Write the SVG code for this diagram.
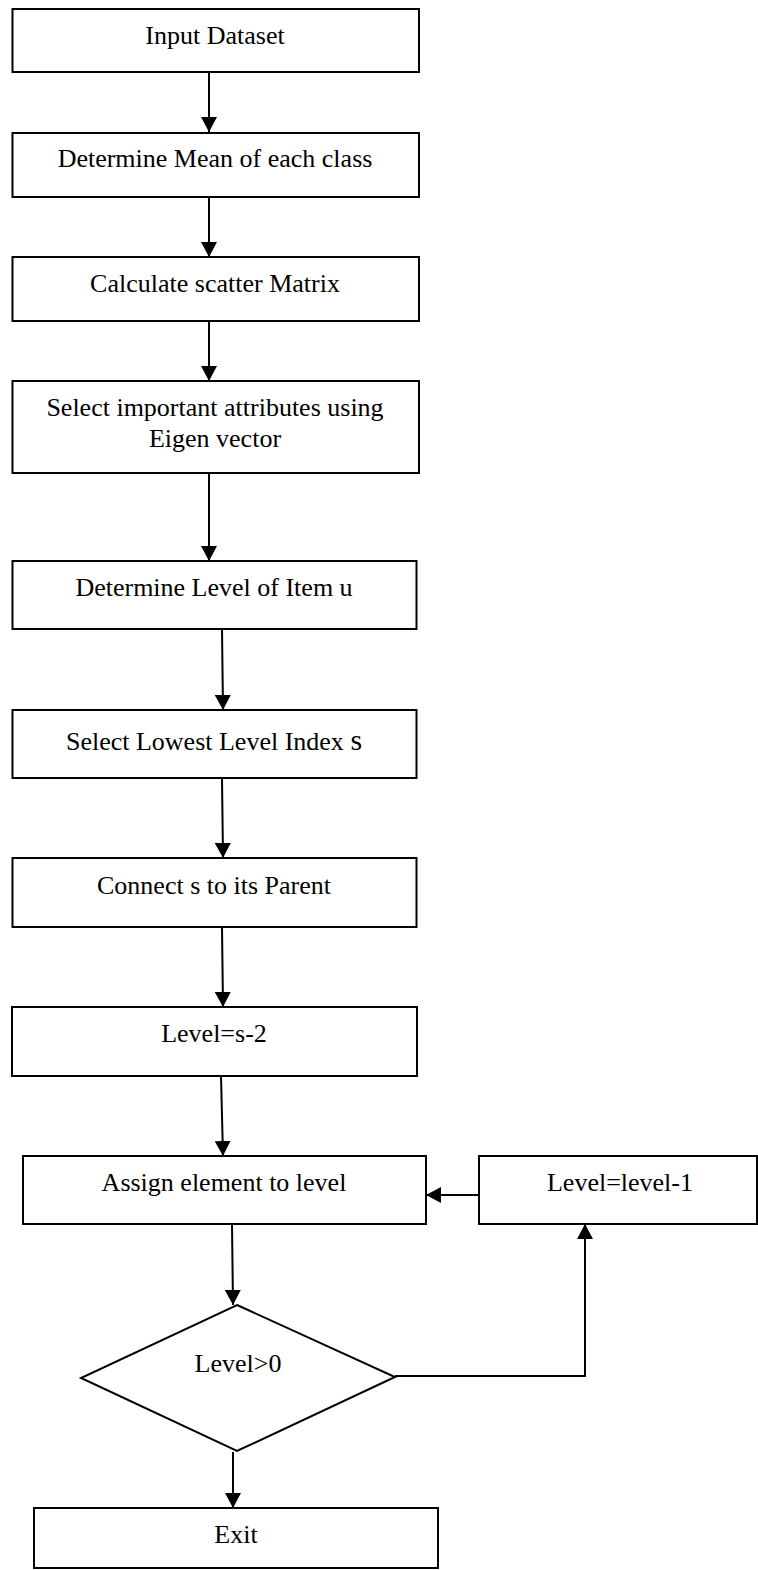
<svg xmlns="http://www.w3.org/2000/svg" width="758" height="1570" viewBox="0 0 758 1570">
<style>
.box{fill:#fff;stroke:#000;stroke-width:2}
.t{font-family:"Liberation Serif","Times New Roman",serif;font-size:26px;fill:#000;text-anchor:middle}
.c{fill:none;stroke:#000;stroke-width:2}
</style>
<defs>
<marker id="ah" markerUnits="userSpaceOnUse" markerWidth="16" markerHeight="16" viewBox="0 0 16 16" refX="15" refY="8" orient="auto">
<path d="M0,0 L15,8 L0,16 Z" fill="#000"/>
</marker>
</defs>
<rect width="758" height="1570" fill="#fff"/>
<g id="connectors">
<line class="c" x1="209" y1="72" x2="209" y2="132" marker-end="url(#ah)"/>
<line class="c" x1="209" y1="197" x2="209" y2="257" marker-end="url(#ah)"/>
<line class="c" x1="209" y1="321" x2="209" y2="381" marker-end="url(#ah)"/>
<line class="c" x1="209" y1="473" x2="209" y2="561" marker-end="url(#ah)"/>
<line class="c" x1="222" y1="629" x2="223" y2="710" marker-end="url(#ah)"/>
<line class="c" x1="222" y1="778" x2="223" y2="858" marker-end="url(#ah)"/>
<line class="c" x1="222" y1="927" x2="223" y2="1007" marker-end="url(#ah)"/>
<line class="c" x1="221" y1="1076" x2="223" y2="1156" marker-end="url(#ah)"/>
<line class="c" x1="232" y1="1224" x2="233" y2="1305" marker-end="url(#ah)"/>
<line class="c" x1="233" y1="1452" x2="233" y2="1508" marker-end="url(#ah)"/>
<polyline class="c" points="395,1376 585,1376 585,1224" marker-end="url(#ah)"/>
<line class="c" x1="479" y1="1195" x2="426" y2="1195" marker-end="url(#ah)"/>
</g>
<g id="n1"><rect class="box" x="12.5" y="9" width="406.5" height="63"/><text class="t" x="215" y="44">Input Dataset</text></g>
<g id="n2"><rect class="box" x="12.5" y="133" width="406.5" height="64"/><text class="t" x="215" y="167">Determine Mean of each class</text></g>
<g id="n3"><rect class="box" x="12.5" y="257" width="406.5" height="64"/><text class="t" x="215" y="292">Calculate scatter Matrix</text></g>
<g id="n4"><rect class="box" x="12.5" y="381" width="406.5" height="92"/><text class="t" x="215" y="416">Select important attributes using</text><text class="t" x="215" y="447">Eigen vector</text></g>
<g id="n5"><rect class="box" x="12.5" y="561" width="404" height="68"/><text class="t" x="214" y="596">Determine Level of Item u</text></g>
<g id="n6"><rect class="box" x="12.5" y="710" width="404" height="68"/><text class="t" x="214" y="750">Select Lowest Level Index <tspan font-size="30">s</tspan></text></g>
<g id="n7"><rect class="box" x="12.5" y="858" width="404" height="69"/><text class="t" x="214" y="894">Connect s to its Parent</text></g>
<g id="n8"><rect class="box" x="12" y="1007" width="405" height="69"/><text class="t" x="214" y="1042">Level=s-2</text></g>
<g id="n9"><rect class="box" x="23" y="1156" width="403" height="68"/><text class="t" x="224" y="1191">Assign element to level</text></g>
<g id="n10"><rect class="box" x="479" y="1156" width="278" height="68"/><text class="t" x="620" y="1191">Level=level-1</text></g>
<g id="n11"><polygon class="box" points="237,1305 395,1377 237,1451 81,1378"/><text class="t" x="238" y="1372">Level&gt;0</text></g>
<g id="n12"><rect class="box" x="34" y="1508" width="404" height="60"/><text class="t" x="236" y="1543">Exit</text></g>
</svg>
